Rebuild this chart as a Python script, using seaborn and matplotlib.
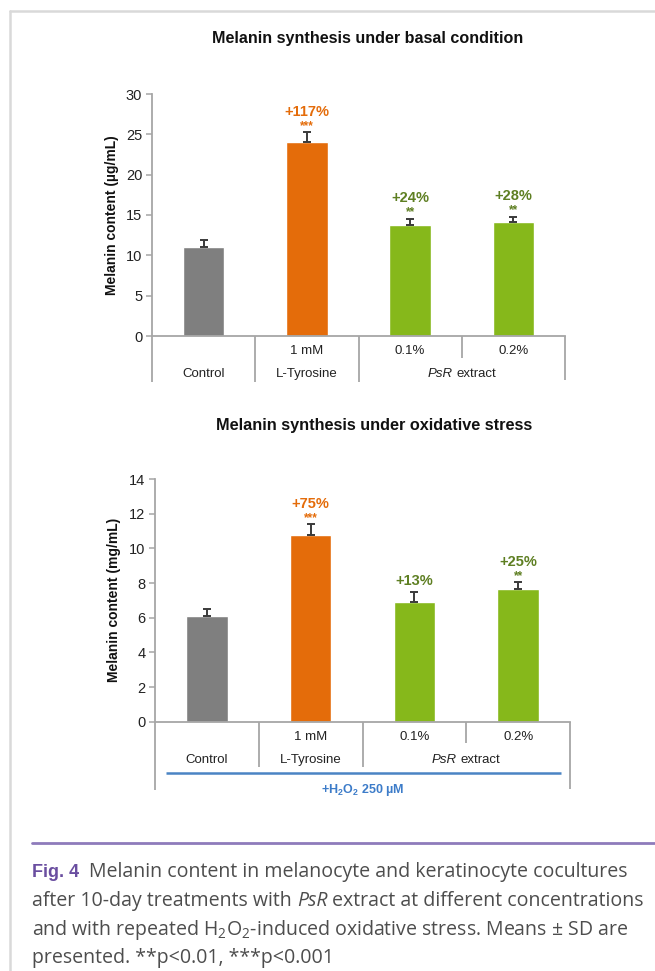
import numpy as np
import pandas as pd
import matplotlib
matplotlib.use("Agg")
import matplotlib.pyplot as plt
import seaborn as sns
from matplotlib import transforms
from matplotlib.lines import Line2D

# ---- data -----------------------------------------------------------------
groups = ["Control", "L-Tyrosine", "PsR 0.1%", "PsR 0.2%"]
dose_labels = ["", "1 mM", "0.1%", "0.2%"]

basal_mean = [11.0, 24.0, 13.8, 14.1]
basal_sd = [0.85, 1.3, 0.75, 0.7]
basal_pct = ["", "+117%", "+24%", "+28%"]
basal_sig = ["", "***", "**", "**"]

stress_mean = [6.1, 10.75, 6.92, 7.65]
stress_sd = [0.4, 0.63, 0.58, 0.4]
stress_pct = ["", "+75%", "+13%", "+25%"]
stress_sig = ["", "***", "", "**"]

bar_colors = ["#7f7f7f", "#e46c0a", "#86b81b", "#86b81b"]
label_colors = ["#7f7f7f", "#e46c0a", "#5e7f22", "#5e7f22"]

# ---- style ----------------------------------------------------------------
sns.set_style("white")
SANS = "Liberation Sans"
CAPTION = "Open Sans"
plt.rcParams["font.family"] = [SANS, "DejaVu Sans"]
plt.rcParams["mathtext.default"] = "regular"

AXIS_GREY = "#a6a6a6"
W, H = 655, 971

fig = plt.figure(figsize=(W / 100, H / 100), dpi=100)
renderer = fig.canvas.get_renderer()


def fx(px):
    return px / W


def fy(py):
    return 1 - py / H


def text_runs(x, y, parts, transform, ha="left", **common):
    """Draw consecutive text pieces with their own styles on one line."""
    probe = fig.text(0, 0, "n n", **common)
    probe2 = fig.text(0, 0, "nn", **common)
    space = (probe.get_window_extent(renderer).width
             - probe2.get_window_extent(renderer).width)
    probe.remove()
    probe2.remove()
    widths = []
    for s, kw, gap in parts:
        t = fig.text(0, 0, s, **common, **kw)
        widths.append(t.get_window_extent(renderer).width + (space if gap else 0))
        t.remove()
    total = sum(widths)
    x0_disp, y_disp = transform.transform((x, y))
    if ha == "center":
        x0_disp -= total / 2
    for (s, kw, gap), w in zip(parts, widths):
        fig.text(x0_disp / fig.bbox.width, y_disp / fig.bbox.height, s,
                 transform=fig.transFigure, **common, **kw)
        x0_disp += w


def draw_panel(ax, means, sds, pcts, sigs, ymax, ystep, ylabel,
               sep_depths, label_rows, stars_off, pct_off):
    df = pd.DataFrame({"group": groups, "value": means})
    sns.barplot(data=df, x="group", y="value", hue="group",
                palette=bar_colors, legend=False, width=0.4,
                saturation=1, errorbar=None, ax=ax)
    ax.errorbar(range(len(means)), means, yerr=[np.zeros(len(sds)), sds],
                fmt="none", ecolor="#3a3a3a", elinewidth=1.4,
                capsize=3, capthick=1.4, zorder=3)
    ax.set_xlim(-0.5, 3.5)
    ax.set_ylim(0, ymax)
    ax.set_yticks(np.arange(0, ymax + 0.01, ystep))
    ax.set_xticks([])
    ax.set_xlabel("")
    ax.set_ylabel(ylabel, fontsize=10, fontweight="bold", color="#111111")
    for side in ("top", "right"):
        ax.spines[side].set_visible(False)
    for side in ("left", "bottom"):
        ax.spines[side].set_color(AXIS_GREY)
        ax.spines[side].set_linewidth(1.3)
    ax.tick_params(axis="y", left=True, length=4, width=1.1,
                   color=AXIS_GREY, pad=3, labelsize=10.5, labelcolor="#222222")

    trans = transforms.blended_transform_factory(ax.transData, ax.transAxes)
    # category separators under the axis
    for xb, depth in zip([-0.5, 0.5, 1.5, 2.5, 3.5], sep_depths):
        ax.plot([xb, xb], [0, -depth], transform=trans, clip_on=False,
                color=AXIS_GREY, lw=1.3, solid_capstyle="butt")
    r1, r2 = label_rows
    lab_kw = dict(transform=trans, ha="center", va="center", fontsize=9.5,
                  color="#222222")
    for i, lab in enumerate(dose_labels):
        if lab:
            ax.text(i, -r1, lab, **lab_kw)
    ax.text(0, -r2, "Control", **lab_kw)
    ax.text(1, -r2, "L-Tyrosine", **lab_kw)
    text_runs(2.5, -r2,
              [("PsR", {"fontstyle": "italic"}, True), ("extract", {}, False)],
              trans, ha="center", va="center", fontsize=9.5, color="#222222")

    # significance and percentage labels above the error bars
    for i, (m, s) in enumerate(zip(means, sds)):
        if sigs[i]:
            ax.annotate(sigs[i], (i, m + s), xytext=(0, stars_off),
                        textcoords="offset points", ha="center", va="center",
                        fontsize=8.5, fontweight="bold", color=label_colors[i])
        if pcts[i]:
            off = pct_off if sigs[i] else stars_off + 3
            ax.annotate(pcts[i], (i, m + s), xytext=(0, off),
                        textcoords="offset points", ha="center", va="center",
                        fontsize=10.5, fontweight="bold", color=label_colors[i])
    return trans


# ---- top panel: basal condition -------------------------------------------
ax1 = fig.add_axes([fx(152), fy(336), fx(565) - fx(152), fy(94) - fy(336)])
draw_panel(ax1, basal_mean, basal_sd, basal_pct, basal_sig, 30, 5,
           "Melanin content (µg/mL)",
           sep_depths=[46 / 242, 46 / 242, 46 / 242, 22 / 242, 44 / 242],
           label_rows=(15 / 242, 38 / 242), stars_off=4.5, pct_off=14.5)
ax1.yaxis.set_label_coords(-0.08, 0.5)
fig.text(fx(367.5), fy(39), "Melanin synthesis under basal condition",
         ha="center", va="center", fontsize=11.6, fontweight="bold",
         color="#111111")

# ---- bottom panel: oxidative stress ---------------------------------------
ax2 = fig.add_axes([fx(155), fy(721.7), fx(570) - fx(155), fy(479) - fy(721.7)])
trans2 = draw_panel(ax2, stress_mean, stress_sd, stress_pct, stress_sig, 14, 2,
                    "Melanin content (mg/mL)",
                    sep_depths=[68 / 242.7, 45 / 242.7, 45 / 242.7, 21 / 242.7, 67 / 242.7],
                    label_rows=(15.5 / 242.7, 38.5 / 242.7), stars_off=4.5, pct_off=14.5)
ax2.yaxis.set_label_coords(-0.082, 0.5)
fig.text(fx(374), fy(425), "Melanin synthesis under oxidative stress",
         ha="center", va="center", fontsize=11.7, fontweight="bold",
         color="#111111")

# treatment bracket for the H2O2 condition
ax2.plot([-0.394, 3.41], [-51.3 / 242.7] * 2, transform=trans2, clip_on=False,
         color="#4a84c4", lw=1.8, solid_capstyle="butt")
ax2.text(1.5, -68.3 / 242.7, "+H$_2$O$_2$ 250 µM", transform=trans2,
         ha="center", va="center", fontsize=9, fontweight="bold",
         color="#3d7cc9")

# ---- page frame, rule and caption -----------------------------------------
fig.add_artist(Line2D([fx(10), fx(10)], [fy(11), 0], color="#d9d9d9", lw=1.8,
                      transform=fig.transFigure))
fig.add_artist(Line2D([fx(10), 1], [fy(11), fy(11)], color="#d9d9d9", lw=1.8,
                      transform=fig.transFigure))
fig.add_artist(Line2D([fx(32), 1], [fy(843), fy(843)], color="#8e7bbb", lw=2.0,
                      transform=fig.transFigure))

cap = dict(fontsize=14.05, color="#4d4d4d", family=[CAPTION, "DejaVu Sans"],
           va="baseline")
fig.text(fx(32), fy(877), "Fig. 4", fontsize=13, fontweight="bold",
         color="#6a4ea0", family=[SANS, "DejaVu Sans"], va="baseline")
fig.text(fx(89), fy(877), "Melanin content in melanocyte and keratinocyte cocultures", **cap)
text_runs(fx(32), fy(905.5),
          [("after 10-day treatments with", {}, True),
           ("PsR", {"fontstyle": "italic"}, True),
           ("extract at different concentrations", {}, False)],
          fig.transFigure, **cap)
fig.text(fx(32), fy(934.5), "and with repeated H$_2$O$_2$-induced oxidative stress. Means ± SD are", **cap)
fig.text(fx(32), fy(962.5), "presented. **p<0.01, ***p<0.001", **cap)

fig.savefig("out.png", dpi=100, facecolor="white")
